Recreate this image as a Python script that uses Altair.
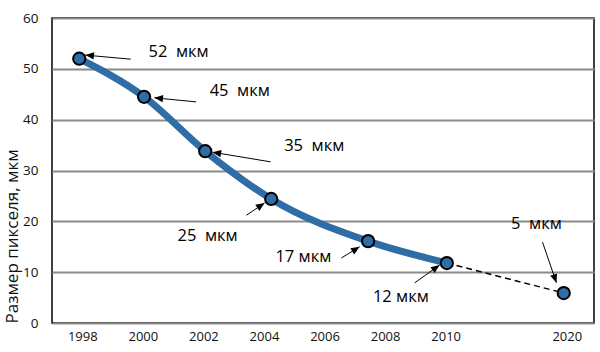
import math
import altair as alt
import pandas as pd

# ---- data (x in axis "slots": 1998=0, 2000=1 ... 2010=6, 2020=8) ----
pt_x = [-0.05, 1.02, 2.03, 3.12, 4.72, 6.02, 7.95]
pt_y = [52.0, 44.5, 33.8, 24.4, 16.1, 11.8, 5.9]
n_solid = 6  # first six points joined by the solid line

tick_pos = [0, 1, 2, 3, 4, 5, 6, 8]
tick_lab = ["1998", "2000", "2002", "2004", "2006", "2008", "2010", "2020"]

NB = "\u00a0"
ann_text = ["52 " + NB + "мкм", "45 " + NB + "мкм", "35 " + NB + "мкм", "25 " + NB + "мкм",
            "17 мкм", "12 мкм", "5 " + NB + "мкм"]
ann_tx = [1.59, 2.60, 3.83, 2.07, 3.65, 5.26, 7.50]
ann_ty = [53.3, 45.6, 34.8, 17.2, 13.0, 5.1, 19.5]
arr_x0 = [0.80, 1.88, 3.11, 2.71, 4.28, 5.49, 7.60]
arr_y0 = [51.9, 43.5, 31.7, 21.2, 12.8, 7.9, 15.9]
arr_x1 = [0.05, 1.19, 2.15, 3.01, 4.58, 5.90, 7.83]
arr_y1 = [52.7, 44.3, 33.6, 23.6, 15.0, 11.4, 7.9]

W, H = 542, 305
XDOM = [-0.5, 8.45]
YDOM = [0, 60]
BLUE = "#2E6DA6"
FONT = "Open Sans"

pxs = W / (XDOM[1] - XDOM[0])
pys = H / (YDOM[1] - YDOM[0])

pts = pd.DataFrame({"x": pt_x, "y": pt_y})
solid = pts.iloc[:n_solid]
dashed = pts.iloc[n_solid - 1:]

angles = []
for a, b, c, d in zip(arr_x0, arr_y0, arr_x1, arr_y1):
    dx = (c - a) * pxs
    dy = -(d - b) * pys
    angles.append(math.degrees(math.atan2(dx, -dy)) % 360)

arrows = pd.DataFrame({"x0": arr_x0, "y0": arr_y0, "x1": arr_x1, "y1": arr_y1, "angle": angles})
ann = pd.DataFrame({"t": ann_text, "x": ann_tx, "y": ann_ty})

label_expr = " : ".join(
    f"datum.value == {p} ? '{l}'" for p, l in zip(tick_pos, tick_lab)
) + " : ''"

xs = alt.Scale(domain=XDOM, nice=False, zero=False)
ys = alt.Scale(domain=YDOM, nice=False, zero=False)

xaxis = alt.Axis(values=tick_pos, labelExpr=label_expr, grid=False, ticks=False, domain=False,
                 title=None, labelFont=FONT, labelFontSize=13, labelColor="#111", labelPadding=7)
yaxis = alt.Axis(values=[0, 10, 20, 30, 40, 50, 60], grid=True, gridColor="#8a8a8a", gridWidth=2,
                 ticks=False, domain=False, labelFont=FONT, labelFontSize=13.5, labelColor="#111",
                 labelPadding=14, title="Размер пикселя, мкм", titleFont=FONT, titleFontSize=17,
                 titleFontWeight="normal", titleColor="#111", titleAnchor="start", titleAlign="left",
                 titleX=-31, titleY=H)

line = alt.Chart(solid).mark_line(color=BLUE, strokeWidth=7, interpolate="monotone").encode(
    x=alt.X("x:Q", scale=xs, axis=xaxis), y=alt.Y("y:Q", scale=ys, axis=yaxis))

dash = alt.Chart(dashed).mark_line(color="black", strokeWidth=1.5, strokeDash=[6, 4]).encode(
    x="x:Q", y="y:Q")

points = alt.Chart(pts).mark_point(filled=True, fill=BLUE, stroke="black", strokeWidth=2,
                                   size=150, opacity=1, shape="circle").encode(x="x:Q", y="y:Q")

rules = alt.Chart(arrows).mark_rule(color="black", strokeWidth=1).encode(
    x="x0:Q", y="y0:Q", x2="x1:Q", y2="y1:Q")

heads = alt.Chart(arrows).mark_point(filled=True, color="black", opacity=1, size=300,
                                     shape="M0,0L0.42,1L-0.42,1Z").encode(
    x="x1:Q", y="y1:Q", angle=alt.Angle("angle:Q", scale=None))

texts = alt.Chart(ann).mark_text(font=FONT, fontSize=16.5, color="black").encode(
    x="x:Q", y="y:Q", text="t:N")

chart = alt.layer(line, dash, points, rules, heads, texts).properties(
    width=W, height=H,
    autosize=alt.AutoSizeParams(type="none"),
    padding={"left": 52, "top": 18, "right": 6, "bottom": 29},
    background="white",
).configure_view(stroke="black", strokeWidth=1.5)

chart.save("out.html", embed_options={"renderer": "svg", "actions": False})
